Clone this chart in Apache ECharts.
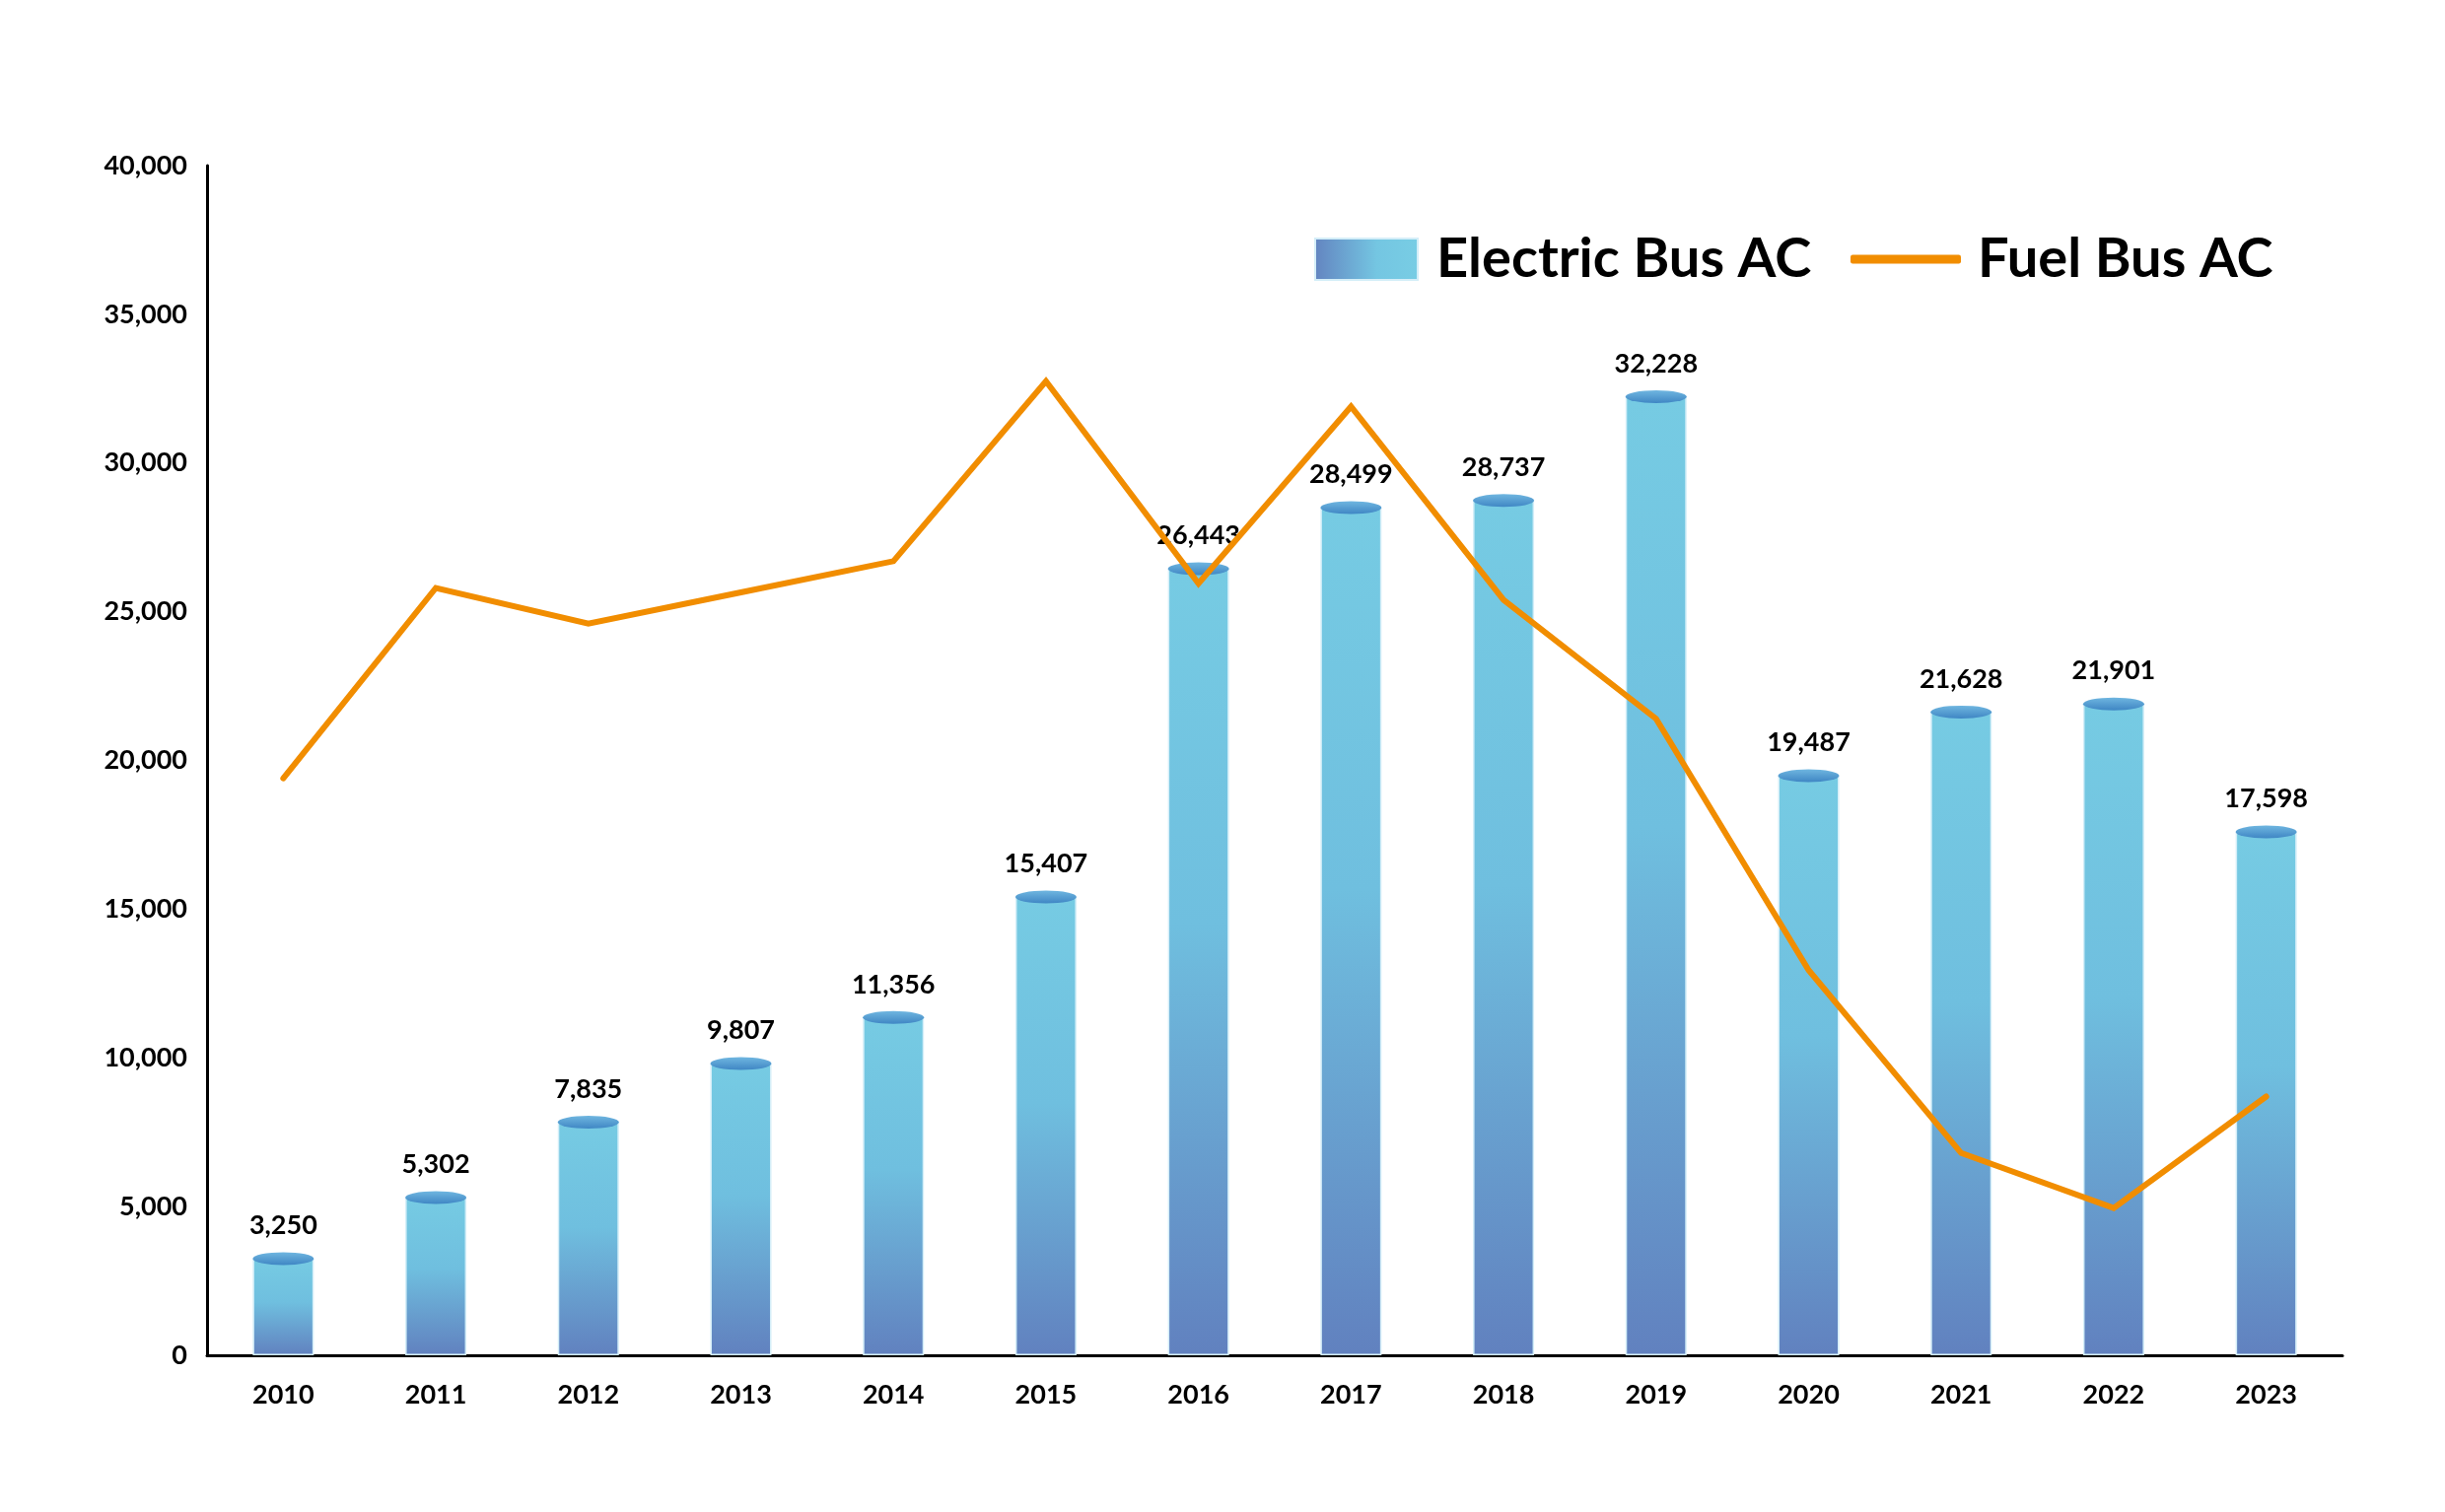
<!DOCTYPE html>
<html>
<head>
<meta charset="utf-8">
<style>
html,body{margin:0;padding:0;background:#fff;}
#chart{width:2480px;height:1534px;}
</style>
<script src="https://cdn.jsdelivr.net/npm/echarts@6/dist/echarts.min.js"></script>
</head>
<body>
<div id="chart"></div>
<script>
const years = ['2010','2011','2012','2013','2014','2015','2016','2017','2018','2019','2020','2021','2022','2023'];
const electricBusAC = [3250,5302,7835,9807,11356,15407,26443,28499,28737,32228,19487,21628,21901,17598];
const fuelBusAC = [19400,25800,24600,25650,26700,32750,25950,31900,25400,21400,12950,6800,4950,8700];
const yTicks = [0,5000,10000,15000,20000,25000,30000,35000,40000];

const FONT = 'Lato';
const fmt = v => v.toLocaleString('en-US');
const chart = echarts.init(document.getElementById('chart'), null, {renderer:'canvas'});

const barGrad = new echarts.graphic.LinearGradient(0,0,0,1,[
  {offset:0,color:'#76cbe3'},
  {offset:0.45,color:'#6fbfdf'},
  {offset:1,color:'#6181bf'}
]);
const capGrad = new echarts.graphic.LinearGradient(0,0,0,1,[
  {offset:0,color:'#6fb6e0'},
  {offset:1,color:'#3f86c4'}
]);

chart.setOption({
  animation:false,
  backgroundColor:'#ffffff',
  textStyle:{fontFamily:FONT},
  grid:{left:210,right:104,top:168,bottom:159,containLabel:false},
  legend:[
    {
      data:[{name:'Electric Bus AC',icon:'rect'}],
      left:1328, top:230,
      itemWidth:104, itemHeight:42,
      itemStyle:{color:new echarts.graphic.LinearGradient(0,0,1,0,[{offset:0,color:'#6384c0'},{offset:0.6,color:'#74c6e2'},{offset:1,color:'#78cde4'}])},
      textStyle:{fontFamily:FONT,fontWeight:'bold',fontSize:56,color:'#000',padding:[0,0,0,14]}
    },
    {
      data:[{name:'Fuel Bus AC',icon:'roundRect'}],
      left:1872, top:230,
      itemWidth:112, itemHeight:9,
      itemStyle:{color:'#f18d00'},
      textStyle:{fontFamily:FONT,fontWeight:'bold',fontSize:56,color:'#000',padding:[0,0,0,12]}
    }
  ],
  xAxis:{
    type:'category',
    data:years,
    boundaryGap:true,
    axisLine:{show:true,lineStyle:{color:'#000',width:3}},
    axisTick:{show:false},
    axisLabel:{fontFamily:FONT,fontWeight:'bold',fontSize:27,color:'#000',margin:27}
  },
  yAxis:{
    type:'value',
    min:0,max:40000,interval:5000,
    axisLine:{show:true,lineStyle:{color:'#000',width:3}},
    axisTick:{show:false},
    splitLine:{show:false},
    axisLabel:{fontFamily:FONT,fontWeight:'bold',fontSize:27,color:'#000',margin:20,formatter:v=>fmt(v)}
  },
  series:[
    {
      name:'Electric Bus AC',
      type:'bar',
      data:electricBusAC,
      barWidth:62,
      barGap:'-100%',
      z:2,
      itemStyle:{color:barGrad,borderColor:'#d4eef8',borderWidth:1.5},
      label:{show:true,position:'top',distance:20,fontFamily:FONT,fontWeight:'bold',fontSize:27,color:'#000',formatter:p=>fmt(p.value)}
    },
    {
      name:'Electric Bus AC',
      type:'pictorialBar',
      data:electricBusAC,
      symbol:'circle',
      symbolSize:[62,13],
      symbolPosition:'end',
      symbolOffset:[0,'-50%'],
      barGap:'-100%',
      z:3,
      itemStyle:{color:capGrad},
      tooltip:{show:false}
    },
    {
      name:'Fuel Bus AC',
      type:'line',
      data:fuelBusAC,
      symbol:'none',
      z:10,
      lineStyle:{color:'#f18d00',width:6,cap:'round',join:'miter'},
      itemStyle:{color:'#f18d00'}
    }
  ]
});
</script>
</body>
</html>
